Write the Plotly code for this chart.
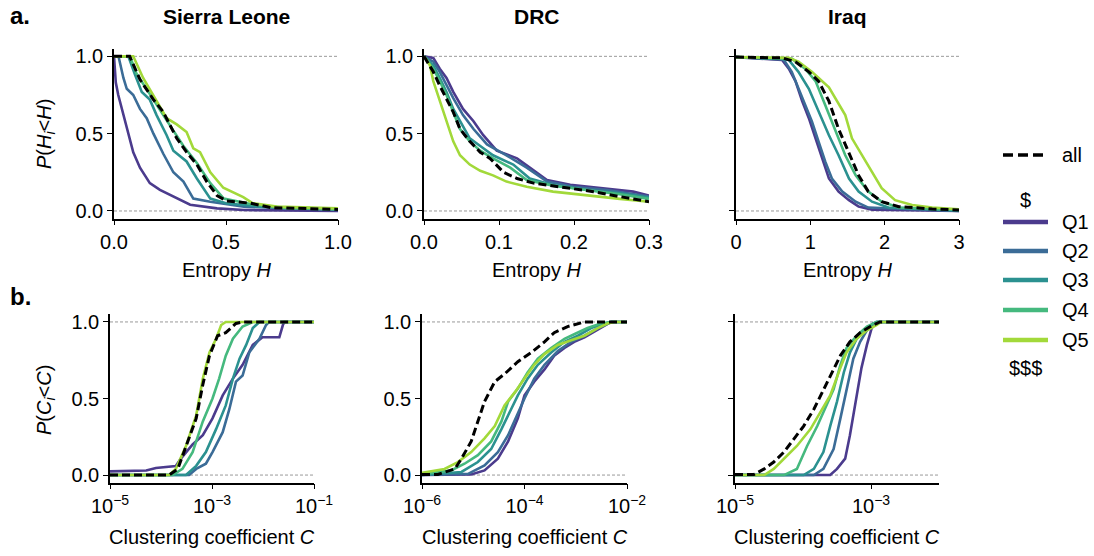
import plotly.graph_objects as go

# ---------------- DATA ----------------
quintiles = ["Q1", "Q2", "Q3", "Q4", "Q5"]
countries = ["Sierra Leone", "DRC", "Iraq"]

# (a) Entropy CCDF  P(H_i < H)
SL_H = {
    "Q1": ([0, 0.004, 0.008, 0.019, 0.042, 0.064, 0.086, 0.116, 0.16, 0.205, 0.28, 0.34, 0.46, 0.58, 1.0],
           [1.0, 0.90, 0.83, 0.75, 0.62, 0.51, 0.38, 0.28, 0.18, 0.136, 0.08, 0.04, 0.017, 0.006, 0.0]),
    "Q2": ([0, 0.02, 0.042, 0.057, 0.086, 0.116, 0.146, 0.176, 0.22, 0.265, 0.31, 0.354, 0.43, 0.58, 1.0],
           [1, 1, 0.86, 0.79, 0.75, 0.66, 0.60, 0.50, 0.37, 0.25, 0.19, 0.08, 0.06, 0.028, 0.006]),
    "Q3": ([0, 0.064, 0.094, 0.124, 0.16, 0.19, 0.235, 0.265, 0.324, 0.37, 0.43, 0.50, 0.65, 1.0],
           [1, 1, 0.88, 0.77, 0.72, 0.62, 0.49, 0.39, 0.32, 0.21, 0.08, 0.05, 0.028, 0.013]),
    "Q4": ([0, 0.071, 0.10, 0.13, 0.176, 0.22, 0.265, 0.31, 0.37, 0.43, 0.49, 0.61, 0.756, 1.0],
           [1, 1, 0.89, 0.82, 0.72, 0.62, 0.52, 0.42, 0.31, 0.18, 0.08, 0.045, 0.02, 0.01]),
    "Q5": ([0, 0.086, 0.13, 0.176, 0.235, 0.28, 0.324, 0.354, 0.384, 0.43, 0.488, 0.577, 0.62, 0.726, 1.0],
           [1, 1, 0.86, 0.75, 0.60, 0.56, 0.51, 0.405, 0.38, 0.25, 0.15, 0.09, 0.05, 0.028, 0.017]),
    "all": ([0, 0.07, 0.116, 0.176, 0.22, 0.25, 0.28, 0.324, 0.37, 0.414, 0.46, 0.503, 0.61, 0.70, 1.0],
            [1, 1, 0.85, 0.72, 0.64, 0.56, 0.47, 0.38, 0.30, 0.19, 0.10, 0.065, 0.05, 0.022, 0.01]),
}
DRC_H = {
    "Q1": ([0, 0.0124, 0.021, 0.03, 0.039, 0.052, 0.066, 0.079, 0.097, 0.124, 0.141, 0.164, 0.195, 0.239, 0.279, 0.3],
           [1, 0.99, 0.92, 0.86, 0.77, 0.66, 0.58, 0.49, 0.39, 0.34, 0.28, 0.20, 0.17, 0.147, 0.125, 0.10]),
    "Q2": ([0, 0.0124, 0.021, 0.03, 0.039, 0.052, 0.066, 0.084, 0.11, 0.137, 0.164, 0.199, 0.244, 0.3],
           [1, 0.965, 0.90, 0.81, 0.73, 0.62, 0.53, 0.43, 0.36, 0.28, 0.19, 0.157, 0.136, 0.093]),
    "Q3": ([0, 0.0124, 0.021, 0.03, 0.039, 0.05, 0.061, 0.075, 0.092, 0.119, 0.141, 0.172, 0.217, 0.261, 0.3],
           [1, 0.94, 0.86, 0.77, 0.66, 0.56, 0.47, 0.42, 0.36, 0.30, 0.21, 0.168, 0.136, 0.114, 0.086]),
    "Q4": ([0, 0.0124, 0.021, 0.03, 0.039, 0.048, 0.061, 0.075, 0.092, 0.115, 0.137, 0.172, 0.217, 0.261, 0.3],
           [1, 0.92, 0.84, 0.75, 0.64, 0.53, 0.45, 0.39, 0.34, 0.28, 0.20, 0.164, 0.136, 0.108, 0.078]),
    "Q5": ([0, 0.008, 0.0124, 0.021, 0.030, 0.039, 0.048, 0.061, 0.075, 0.092, 0.11, 0.137, 0.172, 0.217, 0.261, 0.3],
           [1, 0.94, 0.84, 0.71, 0.58, 0.45, 0.36, 0.30, 0.26, 0.23, 0.19, 0.157, 0.125, 0.10, 0.078, 0.06]),
    "all": ([0, 0.0124, 0.021, 0.03, 0.039, 0.048, 0.061, 0.075, 0.088, 0.106, 0.124, 0.146, 0.181, 0.226, 0.261, 0.3],
            [1, 0.90, 0.81, 0.73, 0.64, 0.53, 0.45, 0.38, 0.34, 0.25, 0.21, 0.18, 0.157, 0.125, 0.093, 0.06]),
}
IQ_H = {
    "Q1": ([0, 0.62, 0.71, 0.80, 0.89, 0.98, 1.07, 1.16, 1.25, 1.38, 1.52, 1.65, 1.83, 3.0],
           [0.995, 0.976, 0.92, 0.84, 0.71, 0.60, 0.47, 0.34, 0.21, 0.125, 0.07, 0.028, 0.009, 0.0]),
    "Q2": ([0, 0.64, 0.75, 0.84, 0.93, 1.02, 1.11, 1.20, 1.29, 1.43, 1.61, 1.78, 3.0],
           [0.995, 0.98, 0.90, 0.79, 0.685, 0.58, 0.45, 0.32, 0.21, 0.125, 0.06, 0.022, 0.0]),
    "Q3": ([0, 0.6, 0.71, 0.84, 0.98, 1.11, 1.25, 1.38, 1.52, 1.65, 1.83, 2.05, 3.0],
           [0.995, 0.985, 0.976, 0.90, 0.79, 0.64, 0.49, 0.36, 0.21, 0.125, 0.06, 0.022, 0.004]),
    "Q4": ([0, 0.75, 0.93, 1.07, 1.20, 1.34, 1.47, 1.61, 1.78, 1.96, 2.19, 3.0],
           [0.995, 0.985, 0.92, 0.84, 0.685, 0.51, 0.36, 0.23, 0.125, 0.06, 0.022, 0.006]),
    "Q5": ([0, 0.71, 0.84, 1.02, 1.25, 1.34, 1.47, 1.56, 1.70, 1.83, 1.96, 2.14, 2.37, 2.64, 3.0],
           [0.995, 0.99, 0.965, 0.90, 0.80, 0.73, 0.62, 0.47, 0.36, 0.25, 0.147, 0.07, 0.039, 0.022, 0.011]),
    "all": ([0, 0.62, 0.80, 0.98, 1.11, 1.25, 1.38, 1.52, 1.65, 1.78, 1.96, 2.19, 2.64, 3.0],
            [0.995, 0.99, 0.965, 0.90, 0.84, 0.71, 0.53, 0.38, 0.23, 0.125, 0.06, 0.028, 0.013, 0.006]),
}

# (b) Clustering coefficient CDF  P(C_i < C); x given as log10(C)
SL_logC = {
    "Q1": ([-5, -4.29, -4.10, -3.71, -3.61, -3.38, -3.18, -2.99, -2.79, -2.59, -2.40, -2.20, -2.01, -1.68, -1.61, -1.58, -1],
           [0.024, 0.03, 0.046, 0.059, 0.107, 0.20, 0.26, 0.37, 0.52, 0.63, 0.72, 0.85, 0.90, 0.90, 0.98, 1.0, 1.0]),
    "Q2": ([-5, -3.45, -3.31, -3.12, -2.99, -2.79, -2.66, -2.53, -2.40, -2.27, -2.07, -1.94, -1.88, -1],
           [0, 0, 0.04, 0.074, 0.15, 0.28, 0.43, 0.61, 0.65, 0.80, 0.89, 0.98, 1, 1]),
    "Q3": ([-5, -3.51, -3.31, -3.12, -2.92, -2.73, -2.59, -2.46, -2.33, -2.20, -2.07, -1],
           [0, 0, 0.06, 0.15, 0.30, 0.455, 0.63, 0.76, 0.85, 0.96, 1, 1]),
    "Q4": ([-5, -3.77, -3.58, -3.38, -3.18, -2.99, -2.86, -2.73, -2.59, -2.40, -2.20, -1],
           [0, 0, 0.04, 0.15, 0.35, 0.50, 0.63, 0.78, 0.89, 0.97, 1, 1]),
    "Q5": ([-5, -3.84, -3.71, -3.51, -3.31, -3.18, -3.05, -2.92, -2.82, -2.73, -1],
           [0, 0, 0.04, 0.19, 0.39, 0.63, 0.80, 0.89, 0.98, 1, 1]),
    "all": ([-5, -3.84, -3.67, -3.51, -3.31, -3.18, -3.05, -2.89, -2.73, -2.53, -2.40, -1],
            [0, 0, 0.04, 0.19, 0.37, 0.59, 0.78, 0.91, 0.93, 0.99, 1, 1]),
}
DRC_logC = {
    "Q1": ([-6, -5.04, -4.78, -4.52, -4.32, -4.13, -4.0, -3.81, -3.61, -3.42, -3.22, -3.03, -2.83, -2.57, -2.31, -2],
           [0, 0.004, 0.03, 0.107, 0.22, 0.37, 0.52, 0.61, 0.69, 0.78, 0.83, 0.87, 0.90, 0.95, 1, 1]),
    "Q2": ([-6, -5.10, -4.78, -4.52, -4.32, -4.13, -4.0, -3.81, -3.61, -3.35, -3.09, -2.83, -2.57, -2.31, -2],
           [0, 0.008, 0.063, 0.15, 0.26, 0.41, 0.50, 0.63, 0.72, 0.81, 0.87, 0.91, 0.96, 1, 1]),
    "Q3": ([-6, -5.23, -4.91, -4.65, -4.45, -4.26, -4.13, -3.94, -3.74, -3.48, -3.22, -2.96, -2.70, -2.44, -2.31, -2],
           [0, 0.02, 0.085, 0.17, 0.30, 0.43, 0.52, 0.63, 0.72, 0.80, 0.87, 0.91, 0.96, 0.99, 1, 1]),
    "Q4": ([-6, -5.43, -5.17, -4.91, -4.65, -4.45, -4.32, -4.13, -3.94, -3.74, -3.48, -3.22, -3.03, -2.77, -2.51, -2.31, -2],
           [0.006, 0.03, 0.074, 0.13, 0.22, 0.35, 0.48, 0.565, 0.67, 0.76, 0.83, 0.89, 0.92, 0.96, 0.99, 1, 1]),
    "Q5": ([-6, -5.56, -5.30, -5.04, -4.78, -4.58, -4.39, -4.19, -4.0, -3.81, -3.61, -3.35, -3.09, -2.83, -2.57, -2.38, -2.25, -2],
           [0.015, 0.04, 0.085, 0.15, 0.24, 0.32, 0.455, 0.54, 0.63, 0.72, 0.79, 0.85, 0.88, 0.91, 0.96, 0.99, 1, 1]),
    "all": ([-6, -5.69, -5.36, -5.23, -5.04, -4.91, -4.78, -4.58, -4.39, -4.13, -3.87, -3.61, -3.42, -3.16, -2.83, -2],
            [0.004, 0.004, 0.04, 0.107, 0.22, 0.35, 0.48, 0.61, 0.66, 0.74, 0.80, 0.87, 0.93, 0.97, 1, 1]),
}
IQ_logC = {
    "Q1": ([-5, -3.60, -3.50, -3.38, -3.31, -3.21, -3.14, -3.06, -2.99, -2.92, -2],
           [0, 0, 0.04, 0.107, 0.26, 0.52, 0.70, 0.85, 0.96, 1, 1]),
    "Q2": ([-5, -3.84, -3.70, -3.55, -3.45, -3.36, -3.26, -3.16, -3.06, -2.97, -2.90, -2],
           [0, 0, 0.04, 0.17, 0.37, 0.56, 0.76, 0.87, 0.945, 0.99, 1, 1]),
    "Q3": ([-5, -3.99, -3.84, -3.70, -3.60, -3.50, -3.40, -3.31, -3.21, -3.06, -2.92, -2],
           [0, 0, 0.04, 0.15, 0.32, 0.48, 0.67, 0.80, 0.89, 0.96, 1, 1]),
    "Q4": ([-5, -4.28, -4.09, -3.94, -3.79, -3.65, -3.55, -3.45, -3.36, -3.21, -3.06, -2.92, -2],
           [0, 0, 0.04, 0.19, 0.32, 0.455, 0.56, 0.72, 0.83, 0.91, 0.97, 1, 1]),
    "Q5": ([-5, -4.57, -4.43, -4.23, -4.09, -3.89, -3.74, -3.60, -3.45, -3.36, -3.21, -3.06, -2.92, -2.85, -2],
           [0, 0, 0.04, 0.13, 0.19, 0.30, 0.41, 0.52, 0.70, 0.80, 0.89, 0.945, 0.98, 1, 1]),
    "all": ([-5, -4.72, -4.57, -4.43, -4.28, -4.13, -3.99, -3.84, -3.74, -3.60, -3.45, -3.31, -3.16, -3.01, -2.87, -2],
            [0.004, 0.004, 0.04, 0.085, 0.15, 0.24, 0.32, 0.43, 0.52, 0.65, 0.78, 0.87, 0.93, 0.97, 1, 1]),
}

# axis ticks
H_ticks = [[0, 0.5, 1.0], [0, 0.1, 0.2, 0.3], [0, 1, 2, 3]]
H_ticktext = [["0.0", "0.5", "1.0"], ["0.0", "0.1", "0.2", "0.3"], ["0", "1", "2", "3"]]
H_range = [[0, 1], [0, 0.3], [0, 3]]
C_ticks_exp = [[-5, -3, -1], [-6, -4, -2], [-5, -3]]
C_range = [[-5, -1], [-6, -2], [-5, -2]]
P_ticks = [0, 0.5, 1.0]
P_ticktext = ["0.0", "0.5", "1.0"]

# ---------------- STYLE ----------------
W, H = 1094, 556
FONT = "Liberation Sans, Arial, Helvetica, sans-serif"
colors = {"Q1": "#4b3b8d", "Q2": "#3b6c97", "Q3": "#2b9190", "Q4": "#45b97e", "Q5": "#a2d93a", "all": "#000000"}
TICK_FS = 20
LABEL_FS = 20

# panel pixel boxes (left, right) and rows (top, bottom)
top_row = (48.6, 218.7)
bot_row = (314.3, 482.7)
top_cols = [(114, 338), (424, 649), (736, 959)]
bot_cols = [(110, 314), (422, 627), (735, 939)]


def px_dom_x(a, b):
    return [a / W, b / W]


def px_dom_y(t, b):
    return [1 - b / H, 1 - t / H]


fig = go.Figure()
layout = dict(template="none", width=W, height=H, margin=dict(l=0, r=0, t=0, b=0, pad=0), autosize=False,
              paper_bgcolor="white", plot_bgcolor="white", showlegend=False,
              font=dict(family=FONT, size=TICK_FS, color="black"))
shapes = []
annotations = []


def axis_common():
    return dict(showgrid=False, zeroline=False, showline=True, linecolor="black", linewidth=1.5,
                ticks="outside", ticklen=5, tickwidth=1.3, tickcolor="black", automargin=False,
                tickfont=dict(family=FONT, size=TICK_FS, color="black"))


H_data = [SL_H, DRC_H, IQ_H]
C_data = [SL_logC, DRC_logC, IQ_logC]

for i in range(3):
    # ---- top row (entropy) ----
    k = i + 1
    xa = "xaxis" if k == 1 else f"xaxis{k}"
    ya = "yaxis" if k == 1 else f"yaxis{k}"
    xr = "x" if k == 1 else f"x{k}"
    yr = "y" if k == 1 else f"y{k}"
    ax = axis_common()
    ax.update(domain=px_dom_x(*top_cols[i]), range=H_range[i], anchor=yr,
              tickvals=H_ticks[i], ticktext=H_ticktext[i])
    ay = axis_common()
    ay.update(domain=px_dom_y(*top_row), range=[-0.05, 1.05], anchor=xr,
              tickvals=P_ticks, ticktext=P_ticktext, showticklabels=(i < 2))
    layout[xa] = ax
    layout[ya] = ay
    for yv in (0, 1):
        shapes.append(dict(type="line", xref=f"{xr} domain", yref=yr, x0=0, x1=1, y0=yv, y1=yv,
                           line=dict(color="#9a9a9a", width=1, dash="3px,2px"), layer="below"))
    for q in quintiles + ["all"]:
        xs, ys = H_data[i][q]
        fig.add_trace(go.Scatter(x=xs, y=ys, mode="lines", xaxis=xr, yaxis=yr, name=q,
                                 line=dict(color=colors[q], width=3 if q == "all" else 2.6,
                                           dash="8px,4px" if q == "all" else "solid")))

    # ---- bottom row (clustering) ----
    k = i + 4
    xa, ya, xr, yr = f"xaxis{k}", f"yaxis{k}", f"x{k}", f"y{k}"
    ax = axis_common()
    ax.update(domain=px_dom_x(*bot_cols[i]), type="log", range=C_range[i], anchor=yr,
              tickvals=[10 ** e for e in C_ticks_exp[i]],
              ticktext=[f"10<sup>\u2212{-e}</sup>" for e in C_ticks_exp[i]])
    ay = axis_common()
    ay.update(domain=px_dom_y(*bot_row), range=[-0.05, 1.05], anchor=xr,
              tickvals=P_ticks, ticktext=P_ticktext, showticklabels=(i < 2))
    layout[xa] = ax
    layout[ya] = ay
    for yv in (0, 1):
        shapes.append(dict(type="line", xref=f"{xr} domain", yref=yr, x0=0, x1=1, y0=yv, y1=yv,
                           line=dict(color="#9a9a9a", width=1, dash="3px,2px"), layer="below"))
    for q in quintiles + ["all"]:
        es, ys = C_data[i][q]
        fig.add_trace(go.Scatter(x=[10 ** e for e in es], y=ys, mode="lines", xaxis=xr, yaxis=yr, name=q,
                                 line=dict(color=colors[q], width=3 if q == "all" else 2.6,
                                           dash="8px,4px" if q == "all" else "solid")))

    # titles and axis labels
    cx = (top_cols[i][0] + top_cols[i][1]) / 2
    annotations.append(dict(text=f"<b>{countries[i]}</b>", x=cx / W, y=1 - 16 / H, xref="paper", yref="paper",
                            showarrow=False, font=dict(size=21, family=FONT), xanchor="center", yanchor="middle"))
    annotations.append(dict(text="Entropy <i>H</i>", x=cx / W, y=1 - 270 / H, xref="paper", yref="paper",
                            showarrow=False, font=dict(size=LABEL_FS, family=FONT), xanchor="center", yanchor="middle"))
    bx = (bot_cols[i][0] + bot_cols[i][1]) / 2
    annotations.append(dict(text="Clustering coefficient <i>C</i>", x=bx / W, y=1 - 537 / H, xref="paper",
                            yref="paper", showarrow=False, font=dict(size=LABEL_FS, family=FONT),
                            xanchor="center", yanchor="middle"))

# y-axis labels
annotations.append(dict(text="<i>P</i>(<i>H<sub>i</sub></i>&lt;<i>H</i>)", x=45 / W, y=1 - 134 / H, xref="paper",
                        yref="paper", showarrow=False, textangle=-90, font=dict(size=LABEL_FS, family=FONT),
                        xanchor="center", yanchor="middle"))
annotations.append(dict(text="<i>P</i>(<i>C<sub>i</sub></i>&lt;<i>C</i>)", x=45 / W, y=1 - 400 / H, xref="paper",
                        yref="paper", showarrow=False, textangle=-90, font=dict(size=LABEL_FS, family=FONT),
                        xanchor="center", yanchor="middle"))
# panel letters
annotations.append(dict(text="<b>a.</b>", x=8 / W, y=1 - 15 / H, xref="paper", yref="paper", showarrow=False,
                        font=dict(size=24, family=FONT), xanchor="left", yanchor="middle"))
annotations.append(dict(text="<b>b.</b>", x=8 / W, y=1 - 296 / H, xref="paper", yref="paper", showarrow=False,
                        font=dict(size=24, family=FONT), xanchor="left", yanchor="middle"))

# legend (manual)
leg_x0, leg_x1, leg_tx = 1003, 1048, 1060
leg_rows = [("all", 155), ("Q1", 222), ("Q2", 251), ("Q3", 280), ("Q4", 310), ("Q5", 340)]
for name, yy in leg_rows:
    shapes.append(dict(type="line", xref="paper", yref="paper", x0=leg_x0 / W, x1=leg_x1 / W,
                       y0=1 - yy / H, y1=1 - yy / H,
                       line=dict(color=colors[name], width=3.5 if name == "all" else 4.5,
                                 dash="10px,5px" if name == "all" else "solid")))
    annotations.append(dict(text=name, x=leg_tx / W, y=1 - yy / H, xref="paper", yref="paper", showarrow=False,
                            font=dict(size=LABEL_FS, family=FONT), xanchor="left", yanchor="middle"))
annotations.append(dict(text="$", x=1025 / W, y=1 - 200 / H, xref="paper", yref="paper", showarrow=False,
                        font=dict(size=LABEL_FS, family=FONT), xanchor="center", yanchor="middle"))
annotations.append(dict(text="$$$", x=1025 / W, y=1 - 368 / H, xref="paper", yref="paper", showarrow=False,
                        font=dict(size=LABEL_FS, family=FONT), xanchor="center", yanchor="middle"))

layout["shapes"] = shapes
layout["annotations"] = annotations
fig.update_layout(**layout)
fig.write_html("out.html", config={"displayModeBar": False},
               post_script="document.body.style.margin='0';document.body.style.padding='0';"
                           "document.documentElement.style.overflow='hidden';")
